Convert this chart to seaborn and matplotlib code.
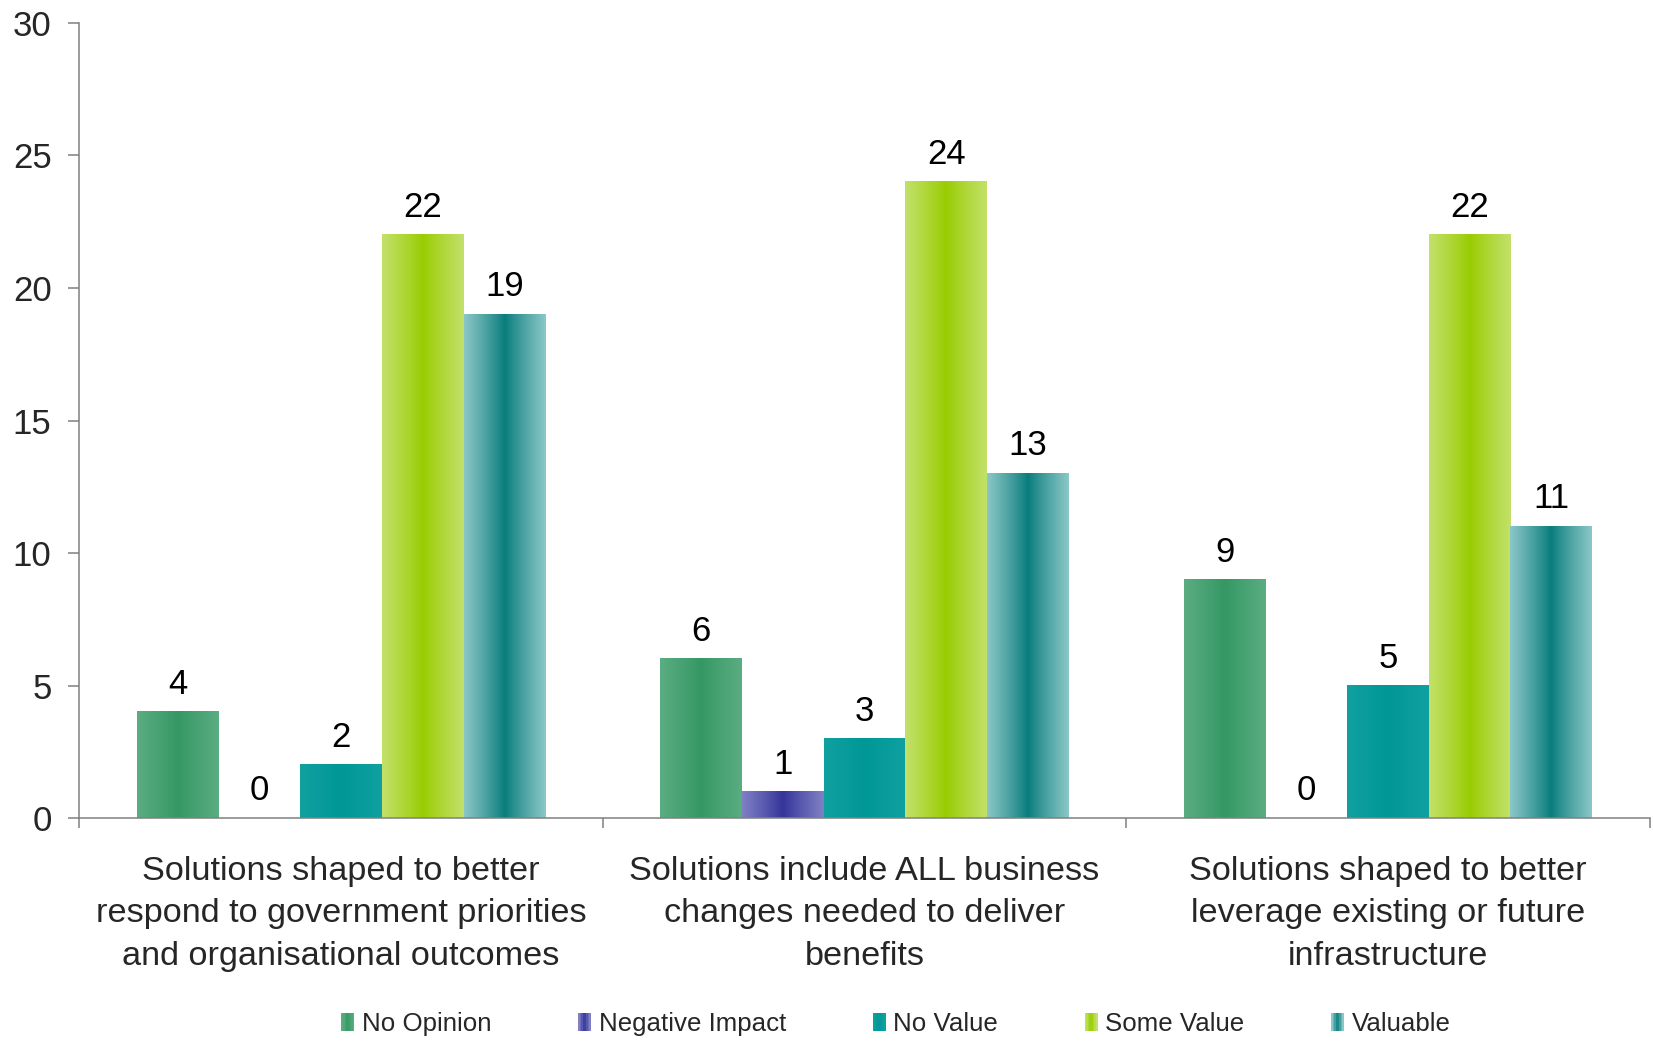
import numpy as np
import pandas as pd
import matplotlib
matplotlib.use("Agg")
import matplotlib.pyplot as plt
import matplotlib.colors as mcolors
from matplotlib import font_manager
from matplotlib.patches import Rectangle
from matplotlib.legend_handler import HandlerBase
import seaborn as sns

# ---- data -------------------------------------------------------------
categories = [
    "Solutions shaped to better\nrespond to government priorities\nand organisational outcomes",
    "Solutions include ALL business\nchanges needed to deliver\nbenefits",
    "Solutions shaped to better\nleverage existing or future\ninfrastructure",
]
ratings = ["No Opinion", "Negative Impact", "No Value", "Some Value", "Valuable"]
no_opinion = [4, 6, 9]
negative_impact = [0, 1, 0]
no_value = [2, 3, 5]
some_value = [22, 24, 22]
valuable = [19, 13, 11]

# (edge colour, centre colour) for the shaded bar faces
edge_colors = ["#5aad81", "#8080c6", "#10a0a0", "#c2e16a", "#8cc7c7"]
center_colors = ["#349764", "#333399", "#009797", "#99cc00", "#087c7c"]

series = [no_opinion, negative_impact, no_value, some_value, valuable]
df = pd.DataFrame(
    [(c, r, v) for r, vals in zip(ratings, series) for c, v in zip(categories, vals)],
    columns=["category", "rating", "value"],
)

# ---- style ------------------------------------------------------------
sns.set_theme(style="white")
plt.rcParams["font.family"] = ["Liberation Sans", "DejaVu Sans"]

try:
    font_manager.findfont("Liberation Sans Narrow", fallback_to_default=False)
    legend_family = ["Liberation Sans Narrow", "Liberation Sans"]
    legend_size = 20
except Exception:
    legend_family = ["Liberation Sans"]
    legend_size = 18.6

fig = plt.figure(figsize=(16.53, 10.41), dpi=100)
ax = fig.add_axes([0.048, 0.214, 0.950, 0.764])

sns.barplot(
    data=df, x="category", y="value", hue="rating",
    hue_order=ratings, order=categories, palette=center_colors,
    width=0.78, gap=0, dodge=True, legend=False, ax=ax,
    saturation=1, edgecolor="none", linewidth=0,
)


def gradient_strip(edge, center, n=128):
    e = np.array(mcolors.to_rgb(edge))
    c = np.array(mcolors.to_rgb(center))
    t = np.abs(np.linspace(-1, 1, n))[:, None] ** 0.9
    return (c + (e - c) * t)[None, :, :]


# Shade each bar with a light-dark-light horizontal gradient
for cont, ec, cc in zip(ax.containers, edge_colors, center_colors):
    img = gradient_strip(ec, cc)
    for p in cont.patches:
        h = p.get_height()
        if h <= 0:
            continue
        x0 = p.get_x()
        w = p.get_width()
        ax.imshow(img, extent=(x0, x0 + w, 0, h), aspect="auto",
                  interpolation="bilinear", zorder=2)
        p.set_visible(False)
    ax.bar_label(cont, fmt="%d", padding=8, fontsize=25, color="black")

ax.set_xlim(-0.5, 2.5)
ax.set_ylim(0, 30)
ax.set_yticks(range(0, 31, 5))
ax.set_xlabel("")
ax.set_ylabel("")

spine_c = "#808080"
for s in ["top", "right"]:
    ax.spines[s].set_visible(False)
for s in ["left", "bottom"]:
    ax.spines[s].set_color(spine_c)
    ax.spines[s].set_linewidth(1.1)

ax.tick_params(axis="y", which="major", direction="out", length=8, width=1.1,
               color=spine_c, labelsize=25, pad=12, left=True)
ax.set_xticks(range(len(categories)))
ax.set_xticklabels(categories, fontsize=24.7, linespacing=1.49)
ax.set_xticks([-0.5, 0.5, 1.5, 2.5], minor=True)
ax.tick_params(axis="x", which="major", length=0, pad=27)
ax.tick_params(axis="x", which="minor", direction="out", length=7, width=1.1,
               color=spine_c, bottom=True)


class GradientHandler(HandlerBase):
    def __init__(self, edge, center, n=8):
        super().__init__()
        self.edge, self.center, self.n = edge, center, n

    def create_artists(self, legend, orig_handle, xdescent, ydescent,
                       width, height, fontsize, trans):
        strip = gradient_strip(self.edge, self.center, self.n)[0]
        w = width / self.n
        arts = []
        for i, col in enumerate(strip):
            r = Rectangle((-xdescent + i * w, -ydescent), w * 1.05, height,
                          facecolor=col, edgecolor="none", transform=trans)
            arts.append(r)
        return arts


handles = [Rectangle((0, 0), 1, 1, facecolor=c) for c in center_colors]
handler_map = {h: GradientHandler(e, c) for h, e, c in zip(handles, edge_colors, center_colors)}
fig.legend(
    handles, ratings, handler_map=handler_map,
    loc="center", bbox_to_anchor=(0.542, 0.016), ncol=5, frameon=False,
    prop={"family": legend_family, "size": legend_size},
    handlelength=0.5, handleheight=0.7, handletextpad=0.3, columnspacing=3.35,
)

fig.savefig("out.png", dpi=100, facecolor="white")
